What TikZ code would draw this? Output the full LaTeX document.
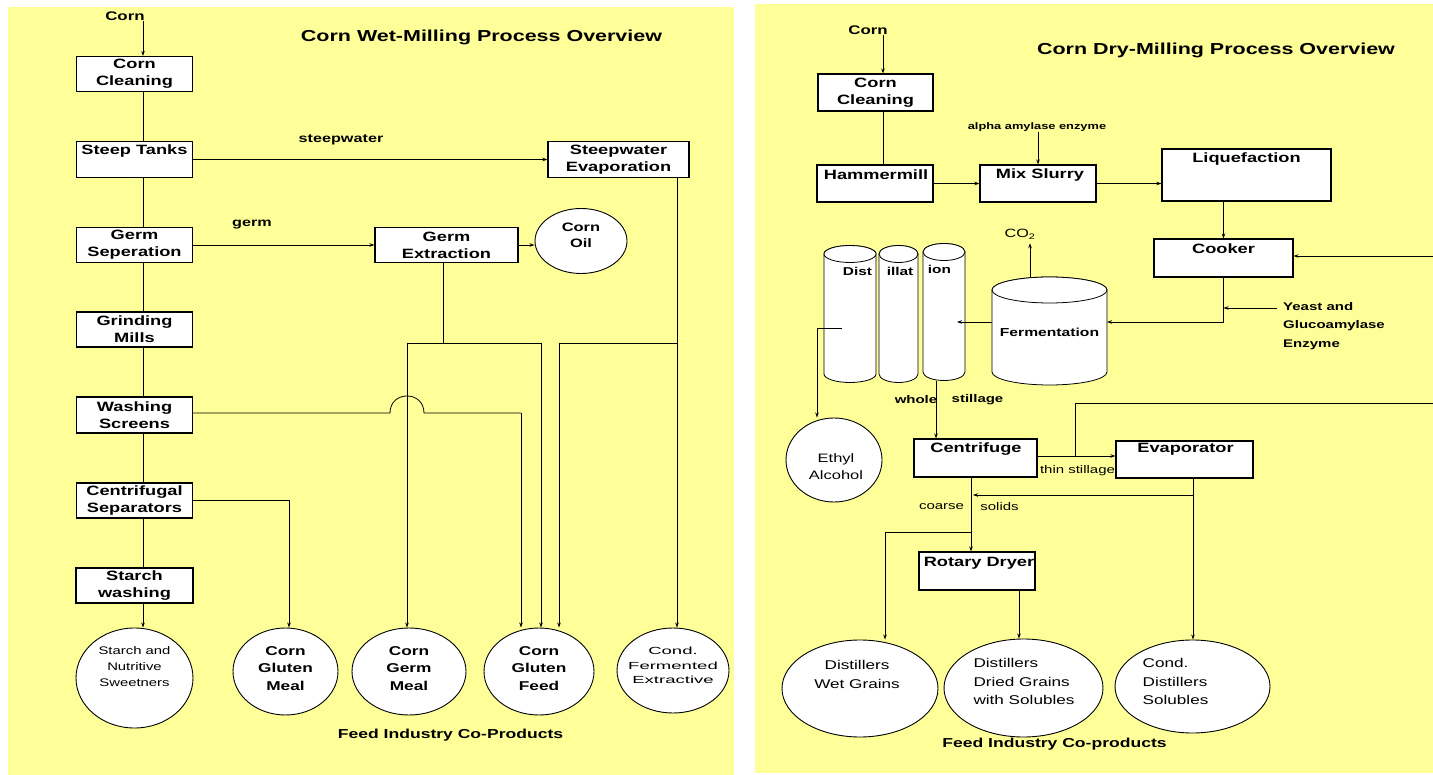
\documentclass[tikz,border=0pt]{standalone}
\usepackage{fontspec}
\setmainfont{Liberation Sans}[FakeStretch=1.35]
\newfontfamily\widefont{Liberation Sans}[FakeStretch=1.8]
\usetikzlibrary{shapes.geometric, arrows.meta}
\definecolor{panelyellow}{HTML}{FFFF99}

\newcommand\fBox{\bfseries\fontsize{13.5}{17}\selectfont}
\newcommand\fTitle{\bfseries\fontsize{15.9}{19}\selectfont}
\newcommand\fLab{\bfseries\fontsize{12}{14}\selectfont}
\newcommand\fSmallB{\bfseries\fontsize{11.1}{18.5}\selectfont}
\newcommand\fSmallR{\fontsize{11.1}{14}\selectfont}
\newcommand\fAlpha{\bfseries\fontsize{9.5}{11}\selectfont}
\newcommand\fEll{\bfseries\fontsize{12.8}{17.5}\selectfont}
\newcommand\fEllR{\fontsize{12.7}{18.5}\selectfont}
\newcommand\fStarch{\fontsize{11}{16}\selectfont}
\newcommand\fCfe{\widefont\fontsize{10.3}{14.5}\selectfont}
\newcommand\fFeed{\bfseries\fontsize{13}{15}\selectfont}
\newcommand\fCorn{\bfseries\fontsize{12.5}{15}\selectfont}
\newcommand\fEthyl{\fontsize{12.2}{17}\selectfont}
\newcommand\fFerm{\bfseries\fontsize{11.6}{14}\selectfont}
\newcommand\fDist{\bfseries\fontsize{11.4}{14}\selectfont}
\newcommand\fCO{\fontsize{12}{14}\selectfont}
\newcommand\fOil{\bfseries\fontsize{12.2}{15.5}\selectfont}

\tikzset{
  box/.style={draw, line width=1.1pt, fill=white, inner sep=0pt, align=center, font=\fBox},
  prod/.style={ellipse, draw, line width=0.9pt, fill=white, inner sep=0pt},
  conn/.style={line width=0.8pt},
  arr/.style={line width=0.8pt, -{Stealth[length=5pt, width=3.5pt]}},
  txt/.style={inner sep=0pt, align=center},
  cylstyle/.style={draw, line width=0.8pt, fill=white},
}

% cylinder: left x, right x, top cap centre y, bottom cap centre y, cap radius
\newcommand\mycyl[5]{%
  \pgfmathsetmacro\cylrx{(#2-#1)/2}%
  \pgfmathsetmacro\cylcx{(#1+#2)/2}%
  \filldraw[cylstyle] (#1,#3) -- (#1,#4)
     arc[start angle=180, end angle=360, x radius=\cylrx pt, y radius=#5pt]
     -- (#2,#3)
     arc[start angle=0, end angle=180, x radius=\cylrx pt, y radius=#5pt] -- cycle;
  \draw[cylstyle] (\cylcx,#3) ellipse[x radius=\cylrx pt, y radius=#5pt];
}

\begin{document}
\begin{tikzpicture}[x=1pt, y=-1pt]
\useasboundingbox (0,0) rectangle (1433,775);
\fill[white] (0,0) rectangle (1433,775);
\fill[panelyellow] (8,7) rectangle (734,775);
\fill[panelyellow] (755,4) rectangle (1433,773);

% ================= LEFT: WET MILLING =================
\node[txt, font=\fTitle] (titleL) at (481.5,37) {Corn Wet-Milling Process Overview};
\coordinate (spineL) at (143,0);
\node[txt, font=\fCorn] (cornL) at (125,16) {Corn};

\node[box, minimum width=116pt, minimum height=35pt] (ccL) at (134.5,74) {Corn\\Cleaning};
\node[box, minimum width=116pt, minimum height=36pt] (stL) at (134.5,159.5) {};
\node[txt, font=\fBox] (stLT) at (134.5,151) {Steep Tanks};
\node[box, minimum width=141pt, minimum height=36pt] (swe) at (618.5,159.5) {Steepwater\\Evaporation};
\node[box, minimum width=116pt, minimum height=35pt] (gsL) at (134.5,245) {Germ\\Seperation};
\node[box, minimum width=143pt, minimum height=35pt] (gex) at (446.5,245) {Germ\\Extraction};
\node[prod, minimum width=92pt, minimum height=65pt] (oil) at (581,241) {};
\node[txt, font=\fOil] (oilT) at (581,235.5) {Corn\\Oil};
\node[box, minimum width=116pt, minimum height=35pt] (gmL) at (134.5,329.5) {Grinding\\Mills};
\node[box, minimum width=116pt, minimum height=36pt] (wsL) at (134.5,415) {Washing\\Screens};
\node[box, minimum width=116pt, minimum height=35pt] (csL) at (134.5,500.5) {Centrifugal\\Separators};
\node[box, minimum width=117pt, minimum height=35pt] (swL) at (134.5,585.5) {Starch\\washing};

\node[prod, minimum width=117pt, minimum height=100pt] (starch) at (134.5,678) {};
\node[txt, font=\fStarch] (starchT) at (134.5,667) {Starch and\\Nutritive\\Sweetners};
\node[prod, minimum width=105pt, minimum height=87pt] (cgm) at (285.5,671.5) {};
\node[txt, font=\fEll] (cgmT) at (285.5,668.5) {Corn\\Gluten\\Meal};
\node[prod, minimum width=114pt, minimum height=87pt] (cgerm) at (409,671.5) {};
\node[txt, font=\fEll] (cgermT) at (409,668.5) {Corn\\Germ\\Meal};
\node[prod, minimum width=110pt, minimum height=87pt] (cgf) at (539,671.5) {};
\node[txt, font=\fEll] (cgfT) at (539,668.5) {Corn\\Gluten\\Feed};
\node[prod, minimum width=112pt, minimum height=85pt] (cfe) at (673,670.5) {};
\node[txt, font=\fCfe] (cfeT) at (673,665.5) {Cond.\\Fermented\\Extractive};
\node[txt, font=\fFeed] (feedL) at (450.5,735) {Feed Industry Co-Products};

\node[txt, font=\fLab] (lblSteep) at (341,140) {steepwater};
\node[txt, font=\fLab] (lblGerm) at (252,225) {germ};

% spine
\draw[arr] (cornL.south -| spineL) -- (ccL.north -| spineL);
\draw[conn] (ccL.south -| spineL) -- (stL.north -| spineL);
\draw[conn] (stL.south -| spineL) -- (gsL.north -| spineL);
\draw[conn] (gsL.south -| spineL) -- (gmL.north -| spineL);
\draw[conn] (gmL.south -| spineL) -- (wsL.north -| spineL);
\draw[conn] (wsL.south -| spineL) -- (csL.north -| spineL);
\draw[conn] (csL.south -| spineL) -- (swL.north -| spineL);
\draw[arr] (swL.south -| spineL) -- (starch.north -| spineL);

\draw[arr] (stL.east) -- (swe.west);
\draw[arr] (gsL.east) -- (gex.west);
\draw[arr] (gex.east) -- (gex.east -| oil.west);

\coordinate (jGex) at (443,343);
\coordinate (jA) at (407,343);
\coordinate (jB) at (541,343);
\coordinate (jC) at (677,343);
\coordinate (jD) at (559,343);
\draw[conn] (gex.south -| jGex) -- (jGex);
\draw[conn] (jA) -- (jB);
\draw[arr] (jA) -- (cgerm.north -| jA);
\draw[arr] (jB) -- (cgf.north -| jB);
\draw[arr] (swe.south -| jC) -- (cfe.north -| jC);
\draw[conn] (jC) -- (jD);
\draw[arr] (jD) -- (cgf.north -| jD);

\coordinate (hopA) at (390,413);
\coordinate (hopB) at (424,413);
\coordinate (jE) at (521,413);
\draw[conn] (wsL.east |- hopA) -- (hopA) .. controls (390,390.3) and (424,390.3) .. (hopB) -- (jE);
\draw[arr] (jE) -- (cgf.north -| jE);

\coordinate (jF) at (289,500);
\draw[arr] (csL.east |- jF) -- (jF) -- (cgm.north -| jF);

% ================= RIGHT: DRY MILLING =================
\node[txt, font=\fTitle] (titleR) at (1216,50) {Corn Dry-Milling Process Overview};
\coordinate (spineR) at (883,0);
\node[txt, font=\fCorn] (cornR) at (868,30) {Corn};
\node[box, minimum width=115pt, minimum height=37pt] (ccR) at (875.5,92.5) {Corn\\Cleaning};
\node[box, minimum width=116pt, minimum height=37pt] (hm) at (875,183.5) {};
\node[txt, font=\fBox] (hmT) at (876,175) {Hammermill};
\node[box, minimum width=116pt, minimum height=37pt] (ms) at (1038,183.5) {};
\node[txt, font=\fBox] (msT) at (1040,175) {Mix Slurry};
\node[txt, font=\fAlpha] (alpha) at (1037,127) {alpha amylase enzyme};
\node[box, minimum width=169pt, minimum height=52pt] (liq) at (1246.5,175) {};
\node[txt, font=\fBox] (liqT) at (1246.5,159) {Liquefaction};
\node[box, minimum width=139pt, minimum height=38pt] (cook) at (1223.5,258) {};
\node[txt, font=\fBox] (cookT) at (1223.5,249) {Cooker};
\node[txt, font=\fSmallB, align=left, anchor=north west] (yeast) at (1283,302) {Yeast and\\Glucoamylase\\Enzyme};

\draw[arr] (cornR.south -| spineR) -- (ccR.north -| spineR);
\draw[conn] (ccR.south -| spineR) -- (hm.north -| spineR);
\draw[arr] (hm.east) -- (ms.west);
\draw[arr] (alpha.south -| ms.north) -- (ms.north);
\draw[arr] (ms.east) -- (ms.east -| liq.west);
\draw[arr] (liq.south -| cook.north) -- (cook.north);
\coordinate (redge2) at (1433,256);
\draw[arr] (redge2) -- (redge2 -| cook.east);

% fermentation tank
\mycyl{992}{1107}{290}{372}{13}
\node[txt, font=\fFerm] (ferm) at (1049.5,332) {Fermentation};
\coordinate (fermE) at (1107,322);
\coordinate (fermW) at (992,322);
\coordinate (fermTop) at (1030,277);
\node[txt, font=\fCO] (co2) at (1020,234) {CO\textsubscript{2}};
\draw[arr, shorten >=4pt] (fermTop) -- (fermTop |- co2.south);

\coordinate (jCook) at (1223.5,322);
\draw[arr] (cook.south) -- (jCook) -- (fermE);
\coordinate (yeastIn) at (1277,308);
\draw[arr] (yeastIn) -- (yeastIn -| cook.south);

% distillation columns
\mycyl{824}{876}{254}{374}{8.5}
\mycyl{879}{918}{254}{374}{8.5}
\mycyl{923}{965}{252}{372}{8.5}
\node[txt, font=\fDist] (dist1) at (857.5,271) {Dist};
\node[txt, font=\fDist] (dist2) at (900,271) {illat};
\node[txt, font=\fDist] (dist3) at (939.5,269) {ion};
\coordinate (distIn) at (957,322);
\draw[arr] (fermW) -- (distIn);

\node[prod, minimum width=96pt, minimum height=84pt] (ethyl) at (834,460) {};
\node[txt, font=\fEthyl] (ethylT) at (836,466.5) {Ethyl\\Alcohol};
\coordinate (tapIn) at (842,328);
\coordinate (tapOut) at (817,328);
\draw[arr] (tapIn) -- (tapOut) -- (ethyl.north -| tapOut);

\node[box, minimum width=123pt, minimum height=38pt] (cen) at (975.5,458) {};
\node[txt, font=\fBox] (cenT) at (976,449) {Centrifuge};
\node[box, minimum width=137pt, minimum height=37pt] (evap) at (1184.5,459.5) {};
\node[txt, font=\fBox] (evapT) at (1185.5,449) {Evaporator};
\node[box, minimum width=116pt, minimum height=38pt] (rd) at (977,571) {};
\node[txt, font=\fBox] (rdT) at (979,563) {Rotary Dryer};

\node[txt, font=\fSmallB] (lblWhole) at (916,400) {whole};
\node[txt, font=\fSmallB] (lblStill) at (977.5,400) {stillage};
\node[txt, font=\fSmallR] (lblThin) at (1077.5,471) {thin stillage};
\node[txt, font=\fSmallR] (lblCoarse) at (941.5,507) {coarse};
\node[txt, font=\fSmallR] (lblSolids) at (999.5,507) {solids};

\coordinate (col3bot) at (936,381);
\draw[arr] (col3bot) -- (col3bot |- cen.north);

\coordinate (jThin) at (1075,456);
\coordinate (jRec) at (1075,403);
\coordinate (redge1) at (1433,403);
\draw[arr] (cen.east |- jThin) -- (evap.west |- jThin);
\draw[conn] (jThin) -- (jRec) -- (redge1);

\node[prod, minimum width=156pt, minimum height=97pt] (dwg) at (860,688.5) {};
\node[txt, font=\fEllR] (dwgT) at (857,674.5) {Distillers\\Wet Grains};
\node[prod, minimum width=159pt, minimum height=98pt] (ddgs) at (1023.5,688) {};
\node[txt, font=\fEllR, align=left] (ddgsT) at (1024,681.5) {Distillers\\Dried Grains\\with Solubles};
\node[prod, minimum width=155pt, minimum height=93pt] (cds) at (1192.5,686.5) {};
\node[txt, font=\fEllR, align=left] (cdsT) at (1175.5,681.5) {Cond.\\Distillers\\Solubles};
\node[txt, font=\fFeed] (feedR) at (1054.5,744) {Feed Industry Co-products};

\coordinate (jEv) at (1193,495);
\coordinate (jCen1) at (973,495);
\draw[arr] (evap.south -| jEv) -- (cds.north -| jEv);
\draw[arr] (jEv) -- (jCen1);

\coordinate (cenX) at (971,0);
\draw[arr] (cen.south -| cenX) -- (rd.north -| cenX);
\coordinate (jDwg) at (971,532);
\coordinate (jDwg2) at (885,532);
\draw[arr] (jDwg) -- (jDwg2) -- (dwg.north -| jDwg2);

\coordinate (rdX) at (1019,0);
\draw[arr] (rd.south -| rdX) -- (ddgs.north -| rdX);
\end{tikzpicture}
\end{document}
